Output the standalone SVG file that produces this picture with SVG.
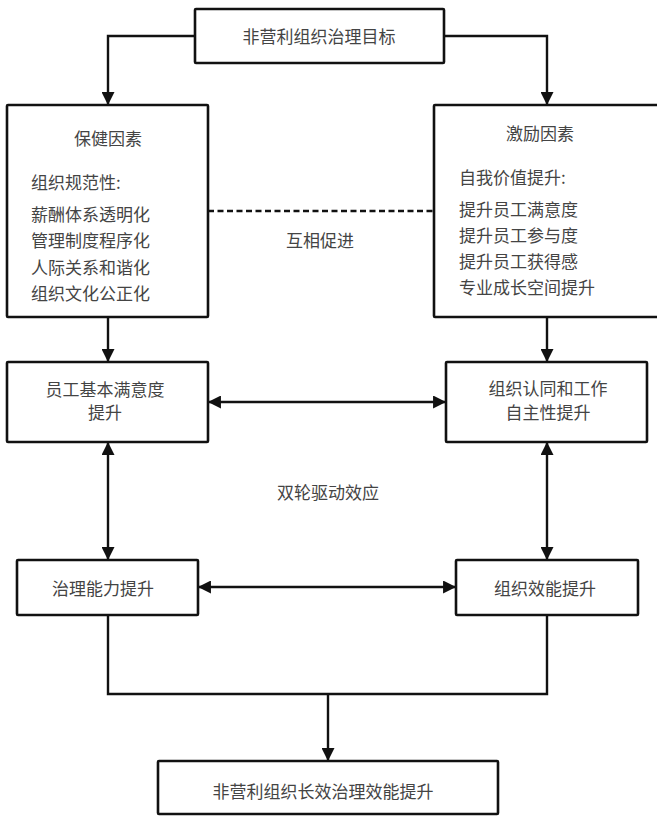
<svg xmlns="http://www.w3.org/2000/svg" width="657" height="816" viewBox="0 0 657 816">
<style>
.box{fill:#fff;stroke:#111;stroke-width:2.6}
.ln{fill:none;stroke:#111;stroke-width:2.4}
.dash{fill:none;stroke:#111;stroke-width:2.6;stroke-dasharray:6,3.5}
text{font-family:"Noto Sans CJK SC","Noto Sans CJK JP",sans-serif;font-size:17px;fill:#444;dominant-baseline:central}
.c{text-anchor:middle}
</style>
<defs>
<marker id="ah" markerUnits="userSpaceOnUse" markerWidth="13" markerHeight="13" viewBox="0 0 12 12" refX="11" refY="6" orient="auto-start-reverse">
<path d="M0,0 L12,6 L0,12 z" fill="#111"/>
</marker>
</defs>
<rect width="657" height="816" fill="#fff"/>
<g id="connectors">
<path class="ln" d="M195,36 H108 V104" marker-end="url(#ah)"/>
<path class="ln" d="M444,36 H547 V104" marker-end="url(#ah)"/>
<path class="ln" d="M108,317 V361" marker-end="url(#ah)"/>
<path class="ln" d="M547,317 V361" marker-end="url(#ah)"/>
<path class="dash" d="M208,211 H434"/>
<path class="ln" d="M209,402 H445" marker-start="url(#ah)" marker-end="url(#ah)"/>
<path class="ln" d="M108,443 V559" marker-start="url(#ah)" marker-end="url(#ah)"/>
<path class="ln" d="M547,443 V559" marker-start="url(#ah)" marker-end="url(#ah)"/>
<path class="ln" d="M199,587 H455" marker-start="url(#ah)" marker-end="url(#ah)"/>
<path class="ln" d="M108,615 V694 H547 V615"/>
<path class="ln" d="M328,694 V760" marker-end="url(#ah)"/>
<text class="c" x="320" y="239">互相促进</text>
<text class="c" x="328" y="491">双轮驱动效应</text>
</g>
<g id="goal">
<rect class="box" x="195" y="9" width="249" height="54" rx="1"/>
<text class="c" x="319" y="35">非营利组织治理目标</text>
</g>
<g id="hygiene">
<rect class="box" x="7" y="105" width="201" height="212" rx="1"/>
<text class="c" x="108" y="137">保健因素</text>
<text x="31" y="181">组织规范性:</text>
<text x="31" y="213">薪酬体系透明化</text>
<text x="31" y="239">管理制度程序化</text>
<text x="31" y="266">人际关系和谐化</text>
<text x="31" y="292">组织文化公正化</text>
</g>
<g id="motivation">
<rect class="box" x="434" y="105" width="232" height="212" rx="1"/>
<text class="c" x="540" y="132">激励因素</text>
<text x="459" y="176">自我价值提升:</text>
<text x="459" y="208">提升员工满意度</text>
<text x="459" y="234">提升员工参与度</text>
<text x="459" y="260">提升员工获得感</text>
<text x="459" y="286">专业成长空间提升</text>
</g>
<g id="satisfaction">
<rect class="box" x="7" y="362" width="201" height="80" rx="1"/>
<text class="c" x="105" y="388">员工基本满意度</text>
<text class="c" x="105" y="411">提升</text>
</g>
<g id="identity">
<rect class="box" x="446" y="362" width="201" height="80" rx="1"/>
<text class="c" x="548" y="387">组织认同和工作</text>
<text class="c" x="548" y="411">自主性提升</text>
</g>
<g id="capacity">
<rect class="box" x="17" y="560" width="181" height="55" rx="1"/>
<text class="c" x="103" y="587">治理能力提升</text>
</g>
<g id="efficiency">
<rect class="box" x="456" y="560" width="182" height="55" rx="1"/>
<text class="c" x="545" y="587">组织效能提升</text>
</g>
<g id="result">
<rect class="box" x="158" y="761" width="340" height="53" rx="1"/>
<text class="c" x="323" y="790">非营利组织长效治理效能提升</text>
</g>
</svg>
